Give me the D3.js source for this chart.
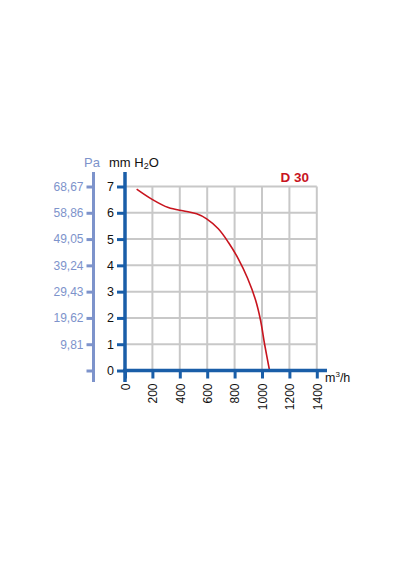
<!DOCTYPE html>
<html>
<head>
<meta charset="utf-8">
<script src="https://cdn.jsdelivr.net/npm/d3@7"></script>
<style>
    body { margin: 0; background: #fff; }
    svg text { font-family: "Liberation Sans", Arial, sans-serif; }
</style>
</head>
<body>
<div id="container"></div>
<script>
// curve: flow in m3/h, pressure in mm H2O
const flow = [85, 195, 316, 438, 523, 596, 681, 754, 827, 894, 953, 989, 1020, 1055];
const pressure = [6.9, 6.52, 6.2, 6.06, 5.96, 5.77, 5.39, 4.88, 4.25, 3.52, 2.68, 1.92, 0.97, 0.0];

const mmTicks = [0, 1, 2, 3, 4, 5, 6, 7];
const paLabels = ["", "9,81", "19,62", "29,43", "39,24", "49,05", "58,86", "68,67"];
const flowTicks = [0, 200, 400, 600, 800, 1000, 1200, 1400];
const title = "D 30";

var width = 400, height = 570;
var blue = "#1a5ea8", paBlue = "#7d93cb", grid = "#c8c8c8", red = "#c8141e";

const x = d3.scaleLinear().domain([0, 1400]).range([125, 316.8]);
const y = d3.scaleLinear().domain([0, 7]).range([370.5, 186.5]);

const svg = d3.select("div#container").append("svg")
    .attr("width", width)
    .attr("height", height);

// grid
svg.append("g")
    .attr("stroke", grid)
    .attr("stroke-width", 2)
    .selectAll("line.h")
    .data(mmTicks.slice(1))
    .join("line")
    .attr("x1", x(0)).attr("x2", x(1400))
    .attr("y1", d => y(d)).attr("y2", d => y(d));

svg.append("g")
    .attr("stroke", grid)
    .attr("stroke-width", 2)
    .selectAll("line.v")
    .data(flowTicks.slice(1))
    .join("line")
    .attr("x1", d => x(d)).attr("x2", d => x(d))
    .attr("y1", y(7)).attr("y2", y(0));

// curve
const line = d3.line()
    .x((d, i) => x(flow[i]))
    .y(d => y(d))
    .curve(d3.curveCatmullRom.alpha(0.5));

svg.append("path")
    .datum(pressure)
    .attr("fill", "none")
    .attr("stroke", red)
    .attr("stroke-width", 1.6)
    .attr("d", line);

// Pa axis
const paAxis = svg.append("g")
    .attr("transform", "translate(93.5,0)")
    .call(d3.axisLeft(y).tickValues(mmTicks).tickSize(7).tickPadding(3)
        .tickFormat((d, i) => paLabels[i]));
paAxis.select(".domain").remove();
paAxis.selectAll(".tick line").attr("stroke", paBlue).attr("stroke-width", 3);
paAxis.selectAll(".tick text")
    .attr("fill", paBlue)
    .style("font-size", "12px")
    .style("font-family", "Liberation Sans, Arial, sans-serif");
svg.append("line")
    .attr("x1", 93.5).attr("x2", 93.5)
    .attr("y1", 172).attr("y2", 382)
    .attr("stroke", paBlue).attr("stroke-width", 3);

// mm H2O axis
const mmAxis = svg.append("g")
    .attr("transform", "translate(125,0)")
    .call(d3.axisLeft(y).tickValues(mmTicks).tickSize(8).tickPadding(3)
        .tickFormat(d3.format("d")));
mmAxis.select(".domain").remove();
mmAxis.selectAll(".tick line").attr("stroke", blue).attr("stroke-width", 3);
mmAxis.selectAll(".tick text")
    .attr("fill", "#111")
    .style("font-size", "12.5px")
    .style("font-family", "Liberation Sans, Arial, sans-serif");

// flow axis
const flowAxis = svg.append("g")
    .attr("transform", "translate(0,370.5)")
    .call(d3.axisBottom(x).tickValues(flowTicks).tickSize(8).tickFormat(d3.format("d")));
flowAxis.select(".domain").remove();
flowAxis.selectAll(".tick line").attr("stroke", blue).attr("stroke-width", 3);
flowAxis.selectAll(".tick text")
    .attr("fill", "#111")
    .attr("transform", "rotate(-90)")
    .attr("text-anchor", "end")
    .attr("x", -13)
    .attr("y", 0)
    .attr("dy", "0.35em")
    .style("font-size", "12px")
    .style("font-family", "Liberation Sans, Arial, sans-serif");

svg.append("line")
    .attr("x1", 125).attr("x2", 125)
    .attr("y1", 172).attr("y2", 382)
    .attr("stroke", blue).attr("stroke-width", 3.5);
svg.append("line")
    .attr("x1", 123).attr("x2", 327)
    .attr("y1", 370.5).attr("y2", 370.5)
    .attr("stroke", blue).attr("stroke-width", 3.5);

// labels
svg.append("text")
    .attr("x", 100).attr("y", 166.5)
    .attr("text-anchor", "end")
    .attr("fill", paBlue)
    .style("font-size", "13px")
    .text("Pa");

const mmLabel = svg.append("text")
    .attr("x", 109).attr("y", 166.5)
    .attr("fill", "#111")
    .style("font-size", "13px");
mmLabel.append("tspan").text("mm H");
mmLabel.append("tspan").attr("dy", 2).style("font-size", "9px").text("2");
mmLabel.append("tspan").attr("dy", -2).text("O");

const unit = svg.append("text")
    .attr("x", 325).attr("y", 382)
    .attr("fill", "#111")
    .style("font-size", "12.5px");
unit.append("tspan").text("m");
unit.append("tspan").attr("dy", -5).style("font-size", "8px").text("3");
unit.append("tspan").attr("dy", 5).text("/h");

svg.append("text")
    .attr("x", 309).attr("y", 181.5)
    .attr("text-anchor", "end")
    .attr("fill", red)
    .style("font-size", "13.5px")
    .style("font-weight", "bold")
    .text(title);
</script>
</body>
</html>
